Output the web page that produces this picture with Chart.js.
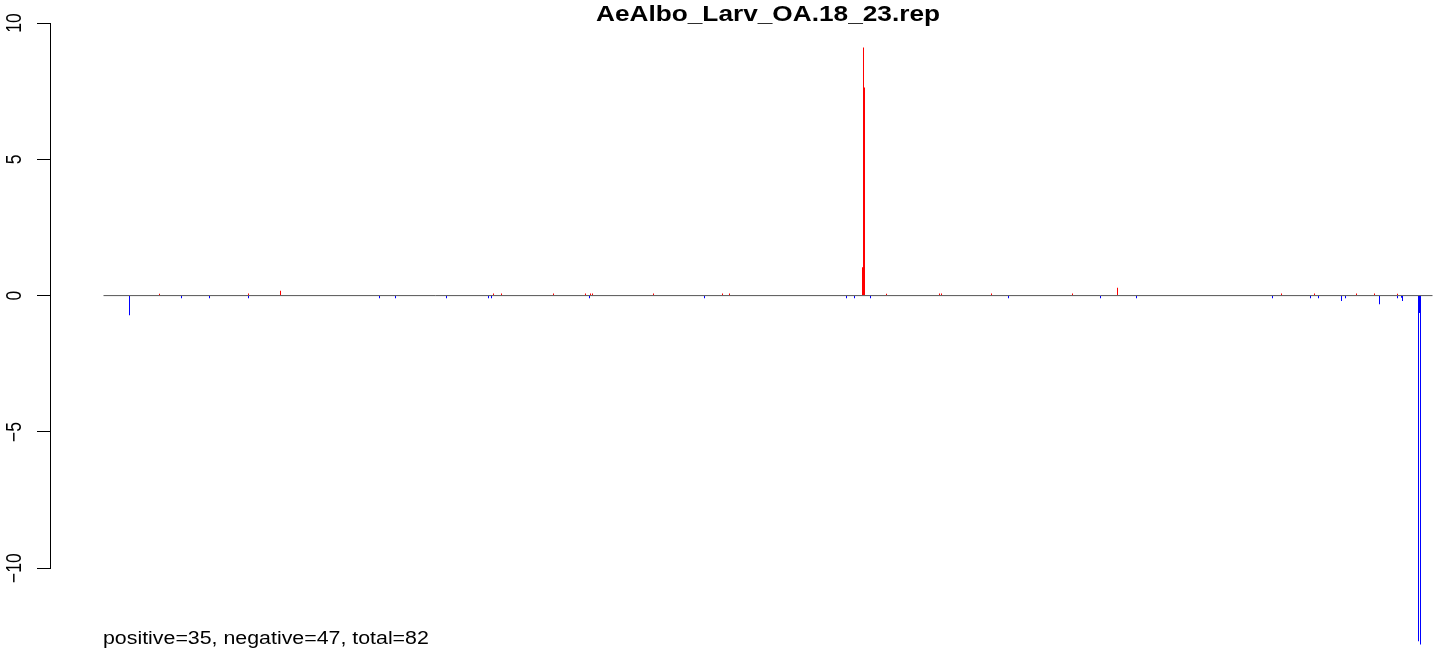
<!DOCTYPE html>
<html>
<head>
<meta charset="utf-8">
<script src="https://cdn.jsdelivr.net/npm/chart.js@4"></script>
<style>
  html, body { margin: 0; padding: 0; background: #fff; }
  canvas { display: block; }
</style>
</head>
<body>
<canvas id="chart" width="1452" height="656"></canvas>
<script>
const titleText = "AeAlbo_Larv_OA.18_23.rep";
const footerText = "positive=35, negative=47, total=82";

// bin positions along the sequence and their scores
const posBins = [57, 146, 178, 391, 399, 451, 483, 488, 490, 551, 620, 627,
  760, 761, 762, 784, 837, 839, 889, 970, 1015, 1179, 1212, 1254, 1272, 1295];
const posScores = [0.07, 0.08, 0.18, 0.08, 0.08, 0.08, 0.08, 0.08, 0.08, 0.08, 0.08, 0.08,
  1.04, 9.1, 7.63, 0.07, 0.08, 0.08, 0.08, 0.08, 0.29, 0.08, 0.08, 0.08, 0.08, 0.07];

const negBins = [27, 79, 107, 146, 277, 293, 344, 386, 389, 487, 602, 744, 752, 768,
  906, 998, 1034, 1170, 1208, 1216, 1239, 1243, 1277, 1295, 1299, 1300, 1316, 1317, 1318];
const negScores = [-0.72, -0.1, -0.1, -0.1, -0.1, -0.1, -0.1, -0.1, -0.1, -0.1, -0.1, -0.1, -0.1, -0.1,
  -0.1, -0.1, -0.1, -0.1, -0.1, -0.1, -0.2, -0.1, -0.32, -0.1, -0.08, -0.2, -12.68, -0.64, -12.8];

const firstBin = 1;
const lastBin = 1330;
const yTicks = [-10, -5, 0, 5, 10];

// the reference picture is stretched sideways, so text is too
const stretch = 1.22;
const fontFamily = "'Liberation Sans', Arial, sans-serif";

// R style axis (only from -10 to 10), rotated tick labels, title and footer
const rText = {
  id: "rText",
  afterDraw(chart) {
    const ctx = chart.ctx;
    const y = chart.scales.y;
    ctx.save();
    ctx.strokeStyle = "#000";
    ctx.lineWidth = 1;
    ctx.beginPath();
    ctx.moveTo(y.right - 0.5, Math.round(y.getPixelForValue(yTicks[yTicks.length - 1])) + 0.5);
    ctx.lineTo(y.right - 0.5, Math.round(y.getPixelForValue(yTicks[0])) + 0.5);
    ctx.stroke();

    ctx.fillStyle = "#000";
    ctx.font = "17.5px " + fontFamily;
    ctx.textAlign = "center";
    ctx.textBaseline = "alphabetic";
    yTicks.forEach(v => {
      ctx.save();
      ctx.translate(21, y.getPixelForValue(v));
      ctx.scale(stretch, 1);
      ctx.rotate(-Math.PI / 2);
      ctx.fillText(String(v).replace("-", "\u2212"), 0, 0);
      ctx.restore();
    });

    ctx.save();
    ctx.translate(768, 20.7);
    ctx.scale(stretch, 1);
    ctx.font = "bold 21.5px " + fontFamily;
    ctx.fillText(titleText, 0, 0);
    ctx.restore();

    ctx.save();
    ctx.translate(103, 644);
    ctx.scale(stretch, 1);
    ctx.textAlign = "left";
    ctx.fillText(footerText, 0, 0);
    ctx.restore();
    ctx.restore();
  }
};

const barStyle = {
  type: "bar",
  grouped: false,
  barPercentage: 1,
  categoryPercentage: 1,
  maxBarThickness: 1,
  inflateAmount: 0,
  borderWidth: 0,
  order: 1
};

new Chart(document.getElementById("chart"), {
  data: {
    datasets: [
      Object.assign({}, barStyle, {
        label: "positive",
        data: posBins.map((b, i) => ({ x: b, y: posScores[i] })),
        backgroundColor: "#ff0000"
      }),
      Object.assign({}, barStyle, {
        label: "negative",
        data: negBins.map((b, i) => ({ x: b, y: negScores[i] })),
        backgroundColor: "#0000ff"
      }),
      {
        type: "line",
        label: "zero",
        data: [{ x: firstBin, y: 0 }, { x: lastBin, y: 0 }],
        borderColor: "#555555",
        borderWidth: 1,
        pointRadius: 0,
        order: 2
      }
    ]
  },
  options: {
    responsive: false,
    animation: false,
    devicePixelRatio: 1,
    layout: { padding: { left: 0, right: 10, top: 23, bottom: 6 } },
    plugins: {
      legend: { display: false },
      tooltip: { enabled: false },
      title: { display: false }
    },
    scales: {
      x: { type: "linear", display: false, offset: false, min: -51.5, max: 1339.5 },
      y: {
        min: -13,
        max: 10,
        ticks: { display: false },
        grid: { drawOnChartArea: false, tickLength: 14, color: "#000", lineWidth: 1 },
        border: { display: false },
        afterBuildTicks: s => { s.ticks = yTicks.map(v => ({ value: v })); },
        afterFit: s => { s.width = 51; }
      }
    }
  },
  plugins: [rText]
});
</script>
</body>
</html>
